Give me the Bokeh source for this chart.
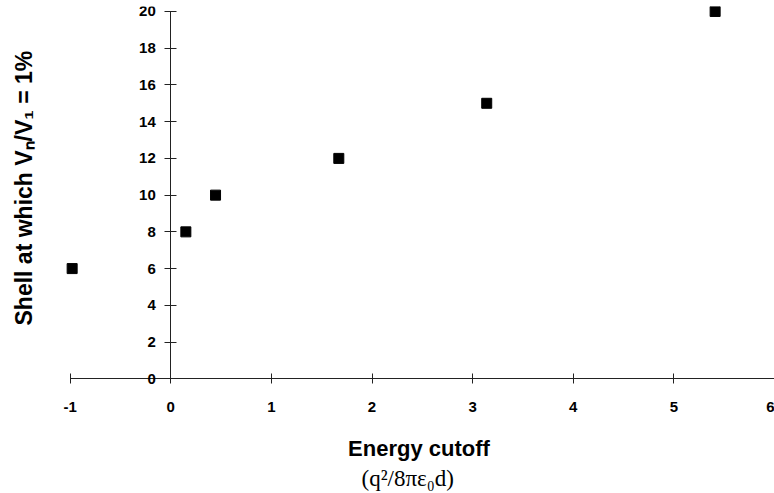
from bokeh.plotting import figure
from bokeh.models import FixedTicker, Title, Range1d, LinearAxis, CustomLabelingPolicy
from bokeh.embed import file_html
from bokeh.resources import INLINE

# data
energy_cutoff = [-0.98, 0.15, 0.445, 1.67, 3.14, 5.41]
shell = [6, 8, 10, 12, 15, 20]
x_ticks = [-1, 0, 1, 2, 3, 4, 5, 6]
x_tick_labels = ["-1", "0", "1", "2", "3", "4", "5", "6"]
y_ticks = [0, 2, 4, 6, 8, 10, 12, 14, 16, 18, 20]

FONT = "Liberation Sans"
AXIS_COLOR = "#222222"

p = figure(width=774, height=493, output_backend="svg", toolbar_location=None,
           x_range=Range1d(-1.066, 6.0),
           y_range=Range1d(-0.474, 20.27),
           min_border_left=60, min_border_right=0, min_border_top=6, min_border_bottom=106)
p.outline_line_color = None
p.xgrid.visible = False
p.ygrid.visible = False
p.background_fill_color = "white"

# bottom axis: only tick labels and title
xa = p.xaxis[0]
xa.ticker = FixedTicker(ticks=x_ticks)
xa.major_label_overrides = {t: s for t, s in zip(x_ticks, x_tick_labels)}
xa.major_tick_in = 0
xa.major_tick_out = 0
xa.minor_tick_line_color = None
xa.axis_line_color = None
xa.major_tick_line_color = None
xa.major_label_text_font = FONT
xa.major_label_text_font_style = "bold"
xa.major_label_text_font_size = "15px"
xa.major_label_text_color = "black"
xa.major_label_standoff = 14
xa.axis_label = "Energy cutoff"
xa.axis_label_text_font = FONT
xa.axis_label_text_font_style = "bold"
xa.axis_label_text_font_size = "22px"
xa.axis_label_text_color = "black"
xa.axis_label_standoff = 21

# labelling policy that draws no labels
no_labels = CustomLabelingPolicy(code="""
    for (const i of indices) { indices.unset(i) }
    return indices
""")

# x axis line and ticks at y = 0 (no labels of its own)
x_line = LinearAxis(fixed_location=0, bounds=(min(x_ticks), max(x_ticks)),
                    ticker=FixedTicker(ticks=x_ticks),
                    major_tick_in=5, major_tick_out=5,
                    minor_tick_line_color=None,
                    axis_line_color=AXIS_COLOR, major_tick_line_color=AXIS_COLOR,
                    major_label_policy=no_labels,
                    major_label_text_font_size="1px", major_label_standoff=0)
p.add_layout(x_line, "above")

# y axis at x = 0
ya = p.yaxis[0]
ya.fixed_location = 0
ya.bounds = (min(y_ticks), max(y_ticks))
ya.ticker = FixedTicker(ticks=y_ticks)
ya.major_tick_in = 6
ya.major_tick_out = 6
ya.minor_tick_line_color = None
ya.axis_line_color = AXIS_COLOR
ya.major_tick_line_color = AXIS_COLOR
ya.major_label_text_font = FONT
ya.major_label_text_font_style = "bold"
ya.major_label_text_font_size = "15px"
ya.major_label_text_color = "black"
ya.major_label_standoff = 9

# invisible spacer axis that keeps the y title away from the plot area
spacer = LinearAxis(ticker=FixedTicker(ticks=y_ticks), major_tick_in=0, major_tick_out=14,
                    axis_line_color=None, major_tick_line_color=None,
                    minor_tick_line_color=None,
                    major_label_policy=no_labels,
                    major_label_text_font_size="1px", major_label_standoff=0)
p.add_layout(spacer, "left")

# y axis title
p.add_layout(Title(text="Shell at which V\u2099/V\u2081 = 1%", align="left", offset=62, standoff=17,
                   text_font=FONT, text_font_style="bold", text_font_size="23px",
                   text_color="black"), "left")

# data points
p.scatter(x=energy_cutoff, y=shell, marker="square", size=10,
          fill_color="black", line_color="black")

# units line below the axis title
p.add_layout(Title(text="(q\u00b2/8\u03c0\u03b5\u2080d)", align="left", offset=298, standoff=0,
                   text_font="Liberation Serif", text_font_style="normal",
                   text_font_size="23px", text_color="black"), "below")

open("out.html", "w").write(file_html(p, INLINE))
